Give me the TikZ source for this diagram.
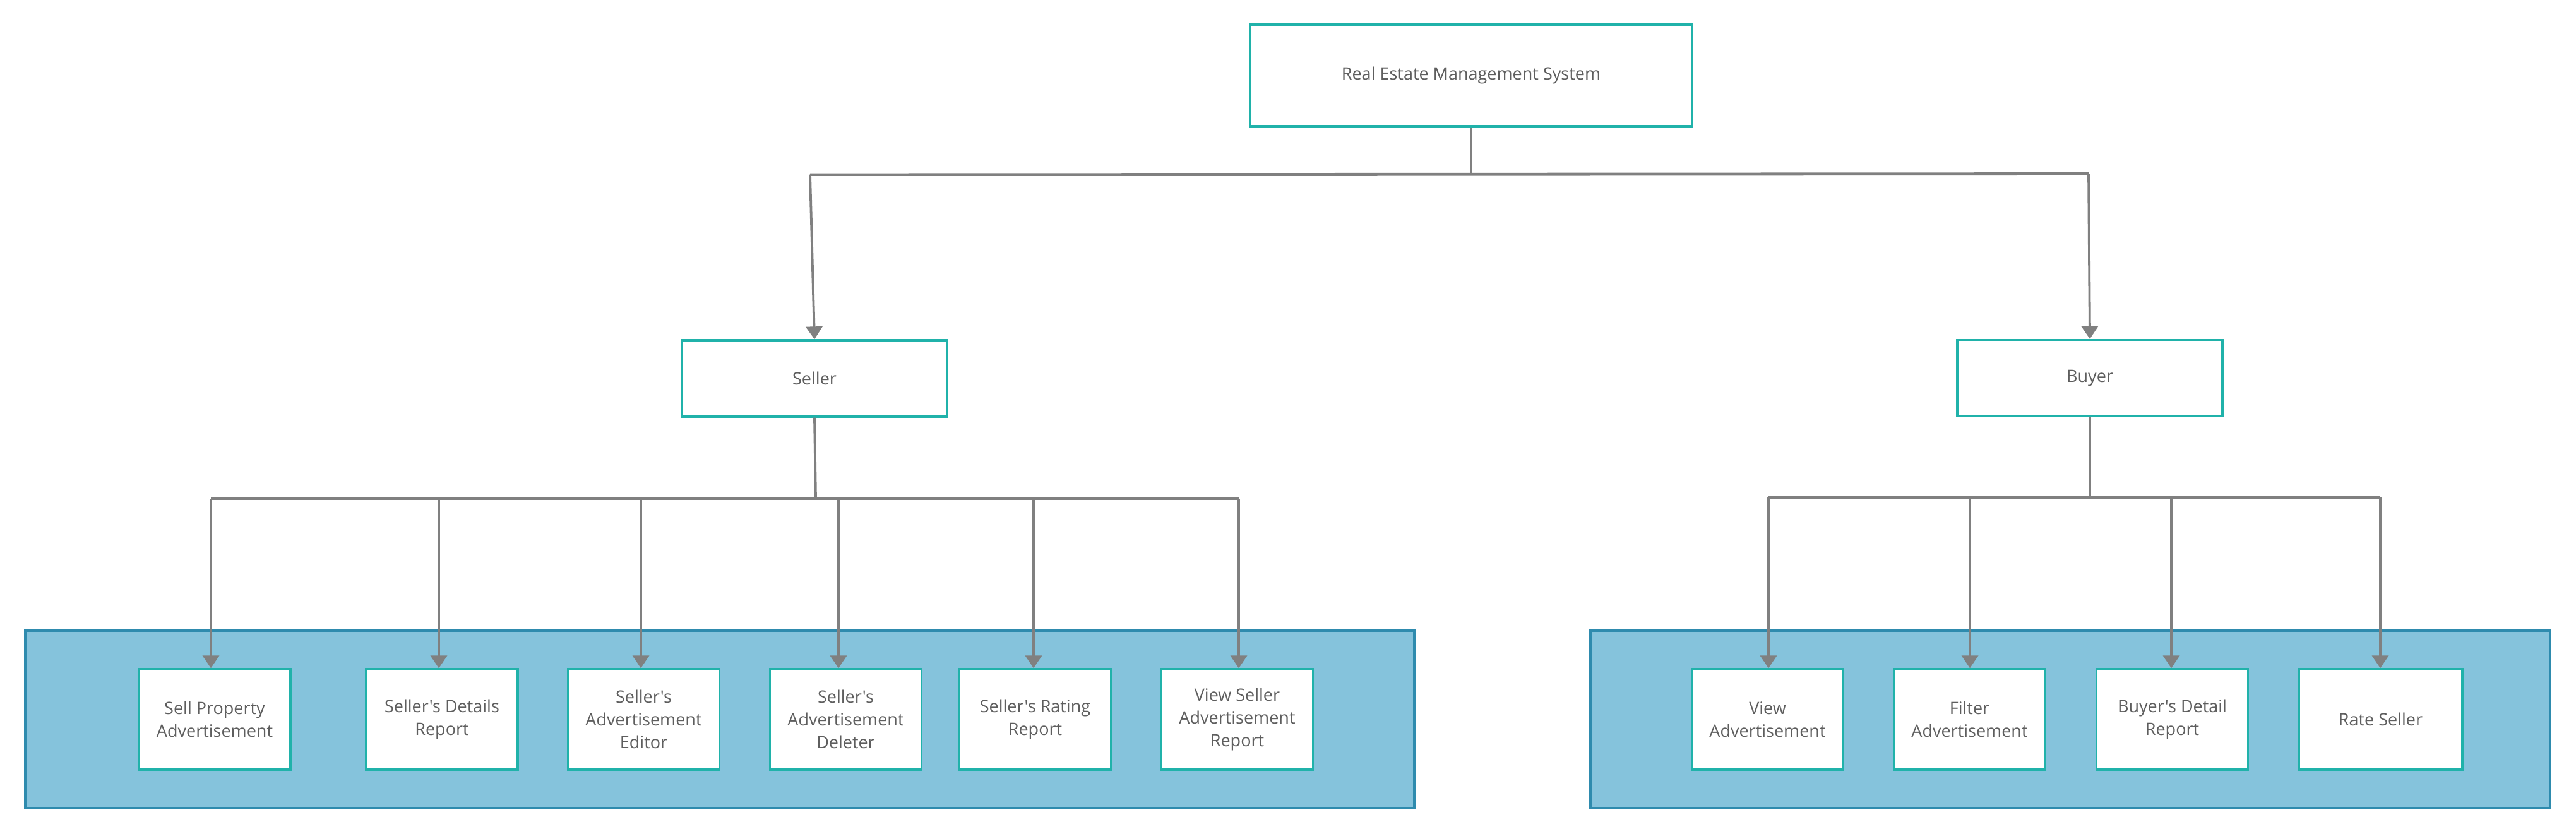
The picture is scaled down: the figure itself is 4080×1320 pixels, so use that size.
\documentclass[tikz,border=0pt]{standalone}
\usepackage{fontspec}
\newfontfamily\osf{Open Sans}
\usetikzlibrary{arrows.meta}
\definecolor{tealb}{HTML}{20B2AA}
\definecolor{contfill}{HTML}{85C3DC}
\definecolor{contdraw}{HTML}{2E8BAE}
\definecolor{txt}{HTML}{5E5E5E}
\definecolor{conng}{HTML}{808080}
\tikzset{
  box/.style={draw=tealb, fill=white, line width=0.85pt, inner sep=0pt, align=center,
    text=txt, font=\osf\fontsize{6.75}{9}\selectfont},
  topbox/.style={box, minimum width={701*0.25pt}, minimum height={161*0.25pt}},
  midbox/.style={box, minimum width={420*0.25pt}, minimum height={121*0.25pt}},
  leaf/.style={box, minimum width={240*0.25pt}, minimum height={159*0.25pt}},
  container/.style={draw=contdraw, fill=contfill, line width=0.85pt, inner sep=0pt},
  conn/.style={draw=conng, line width=0.95pt},
  arr/.style={conn, -{Triangle[length=5pt,width=6.5pt]}},
}
\begin{document}
\begin{tikzpicture}[x=0.25pt,y=-0.25pt]
\useasboundingbox (0,0) rectangle (4080,1320);
% containers
\node[container, minimum width={2200*0.25pt}, minimum height={281*0.25pt}] (contL) at (1140,1139.5) {};
\node[container, minimum width={1520*0.25pt}, minimum height={281*0.25pt}] (contR) at (3279,1139.5) {};
% main nodes
\node[topbox] (top) at (2330,119.5) {Real Estate Management System};
\node[midbox] (seller) at (1290,599.5) {Seller};
\node[midbox] (buyer) at (3310,599) {Buyer};
% leaves
\node[leaf] (l1) at (340,1139.5) {Sell Property\\Advertisement};
\node[leaf] (l2) at (700,1139.5) {Seller's Details\\Report};
\node[leaf] (l3) at (1019.5,1139.5) {Seller's\\Advertisement\\Editor};
\node[leaf] (l4) at (1339.5,1139.5) {Seller's\\Advertisement\\Deleter};
\node[leaf] (l5) at (1639.5,1139.5) {Seller's Rating\\Report};
\node[leaf] (l6) at (1959.5,1139.5) {View Seller\\Advertisement\\Report};
\node[leaf] (r1) at (2799.5,1139.5) {View\\Advertisement};
\node[leaf] (r2) at (3119.5,1139.5) {Filter\\Advertisement};
\node[leaf] (r3) at (3440.5,1139.5) {Buyer's Detail\\Report};
\node[leaf, minimum width={259*0.25pt}] (r4) at (3770.5,1139.5) {Rate Seller};
% bus coordinates
\coordinate (tj) at (2330,276);
\coordinate (tL) at (1283,276.5);
\coordinate (tR) at (3308,275);
\coordinate (sj) at (1292,790);
\coordinate (s1) at (334,790);
\coordinate (s2) at (695,790);
\coordinate (s3) at (1015,790);
\coordinate (s4) at (1328,790);
\coordinate (s5) at (1637,790);
\coordinate (s6) at (1962,790);
\coordinate (b0) at (3310,788);
\coordinate (b1) at (2801,788);
\coordinate (b2) at (3120,788);
\coordinate (b3) at (3439,788);
\coordinate (b4) at (3770,788);
% top level connectors
\draw[conn] (top.south) -- (tj);
\draw[conn] (tL) -- (tR);
\draw[arr] (tL) -- (seller.north);
\draw[arr] (tR) -- (buyer.north);
% seller connectors
\draw[conn] (seller.south) -- (sj);
\draw[conn] (s1) -- (s6);
\draw[arr] (s1) -- (s1 |- l1.north);
\draw[arr] (s2) -- (s2 |- l2.north);
\draw[arr] (s3) -- (s3 |- l3.north);
\draw[arr] (s4) -- (s4 |- l4.north);
\draw[arr] (s5) -- (s5 |- l5.north);
\draw[arr] (s6) -- (s6 |- l6.north);
% buyer connectors
\draw[conn] (buyer.south) -- (b0);
\draw[conn] (b1) -- (b4);
\draw[arr] (b1) -- (b1 |- r1.north);
\draw[arr] (b2) -- (b2 |- r2.north);
\draw[arr] (b3) -- (b3 |- r3.north);
\draw[arr] (b4) -- (b4 |- r4.north);
\end{tikzpicture}
\end{document}
